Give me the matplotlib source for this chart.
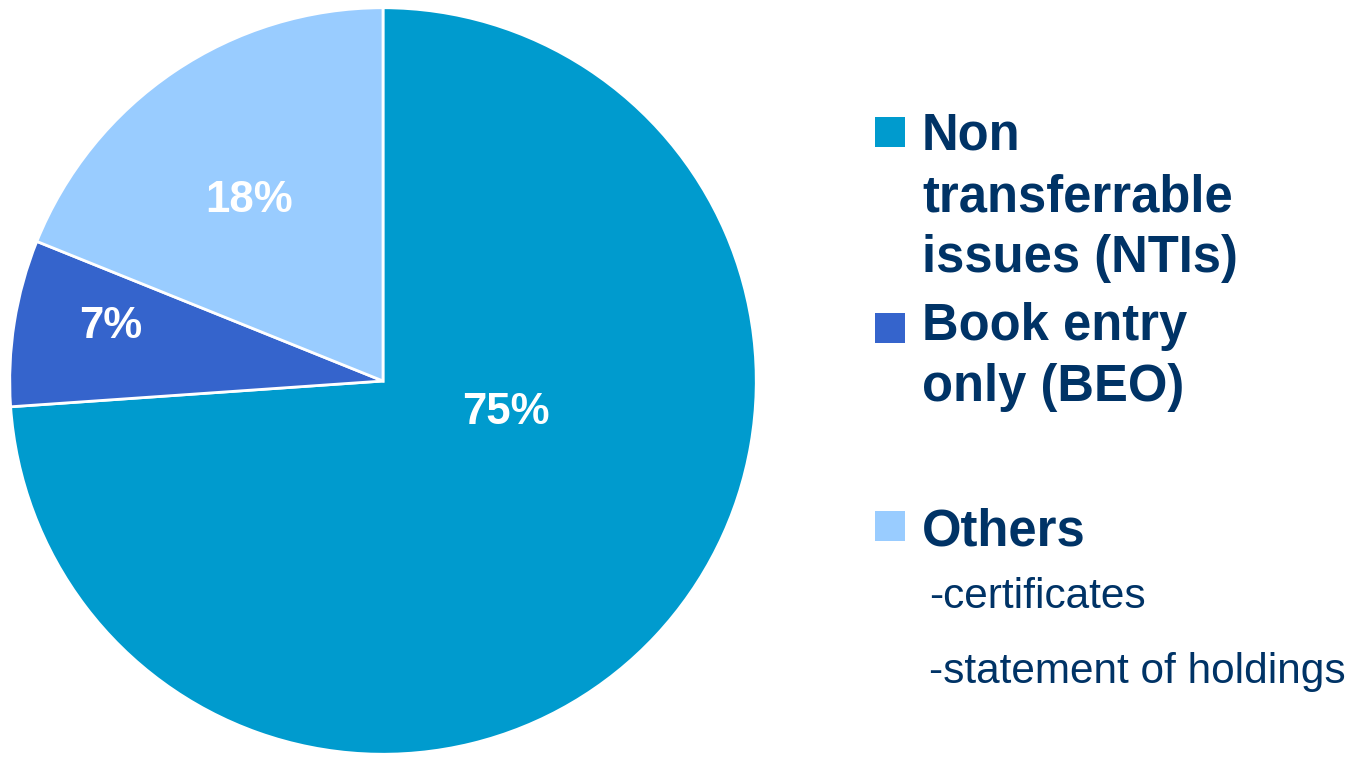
import matplotlib
matplotlib.use("Agg")
import matplotlib.pyplot as plt
from matplotlib.patches import Rectangle

plt.rcParams['font.family'] = ['Liberation Sans', 'DejaVu Sans']

# data
categories = ["Non\ntransferrable\nissues (NTIs)", "Book entry\nonly (BEO)", "Others"]
shares = [73.9, 7.2, 18.9]
pct_labels = ["75%", "7%", "18%"]
colors = ["#009BCE", "#3564CC", "#99CCFF"]
others_notes = ["-certificates", "-statement of holdings"]

navy = "#003366"
W, H = 1353, 757
fig = plt.figure(figsize=(W / 100, H / 100), dpi=100)

ax = fig.add_axes([9 / W, 0 / H, 748 / W, 752 / H])
ax.pie(shares, colors=colors, startangle=90, counterclock=False,
       wedgeprops=dict(edgecolor="white", linewidth=2))
ax.set_xlim(-1.002, 1.002)
ax.set_ylim(-1.002, 1.002)
ax.set_aspect("equal")
ax.axis("off")

label_pos = [(0.33, -0.085), (-0.73, 0.145), (-0.36, 0.483)]
for (x, y), t in zip(label_pos, pct_labels):
    ax.text(x, y, t, ha="center", va="center", color="white",
            fontsize=31.5, fontweight="bold")

# legend drawn by hand
def fx(px):
    return px / W

def fy(py):
    return 1 - py / H

sq_tops = [117, 313, 511]
first_baselines = [150, 340, 545]
for top, base, col, name in zip(sq_tops, first_baselines, colors, categories):
    fig.patches.append(Rectangle((fx(875), fy(top + 30)), 30 / W, 30 / H,
                                 transform=fig.transFigure, facecolor=col,
                                 edgecolor="none"))
    for i, line in enumerate(name.split("\n")):
        fig.text(fx(922), fy(base + i * 61), line, color=navy, fontsize=36.5,
                 fontweight="bold", ha="left", va="baseline")

for i, note in enumerate(others_notes):
    fig.text(fx(929), fy(608 + i * 75), note, color=navy, fontsize=30.5,
             ha="left", va="baseline")

fig.savefig("out.png", dpi=100, facecolor="white")
